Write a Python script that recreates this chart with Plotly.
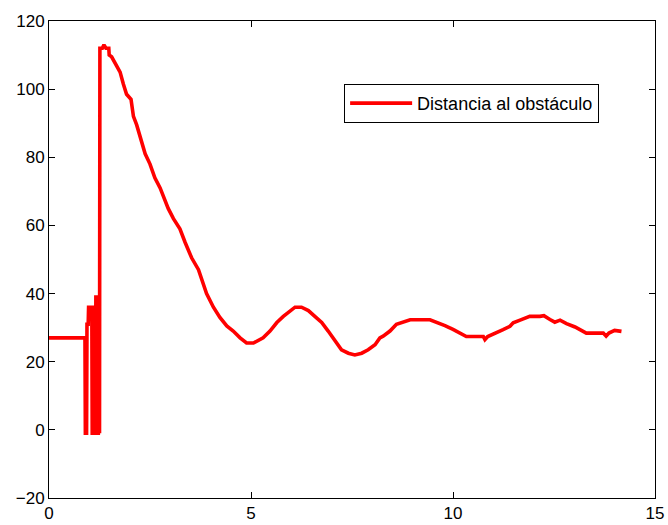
import plotly.graph_objects as go

# Time (s) and distance readings
t = [0, 0.89, 0.90, 0.93, 0.94, 0.97, 0.98, 1.06, 1.07, 1.09, 1.10, 1.12, 1.13, 1.15,
     1.16, 1.19, 1.20, 1.22, 1.23, 1.24, 1.25, 1.26, 1.32, 1.36, 1.41, 1.48, 1.49, 1.55,
     1.60, 1.68, 1.76, 1.84, 1.92, 2.03, 2.06, 2.09, 2.17, 2.29, 2.38, 2.50, 2.62, 2.75,
     2.87, 2.95, 3.08, 3.24, 3.37, 3.53, 3.70, 3.78, 3.90, 4.07, 4.23, 4.40, 4.56, 4.73,
     4.89, 5.06, 5.18, 5.30, 5.47, 5.64, 5.80, 5.97, 6.09, 6.25, 6.42, 6.58, 6.75, 6.91,
     7.08, 7.24, 7.41, 7.57, 7.74, 7.90, 8.07, 8.19, 8.27, 8.44, 8.60, 8.77, 8.94, 9.43,
     9.60, 9.80, 10.00, 10.20, 10.33, 10.75, 10.79, 10.86, 11.08, 11.24, 11.41, 11.49,
     11.66, 11.90, 12.15, 12.25, 12.40, 12.52, 12.65, 12.81, 13.02, 13.18, 13.30, 13.72,
     13.79, 13.86, 14.00, 14.17]
distancia = [27, 27, -1, -1, 31, 31, 36, 36, -1, -1, 36, 36, -1, -1,
             39, 39, -1, -1, 39, -1, -1, 112, 112, 113, 112, 112, 110, 109.5,
             108.5, 107, 105, 101.5, 98.5, 97, 95, 92, 89.5, 85, 81, 78, 74, 71,
             67.5, 65, 62, 59, 55, 50.5, 47, 44, 40, 36, 33, 30.5, 29, 27,
             25.5, 25.5, 26.3, 27, 29, 31.5, 33.3, 35, 36, 36, 35, 33.3, 31.5, 29,
             26, 23.5, 22.5, 22, 22.5, 23.5, 25, 27, 27.5, 29, 31, 31.6, 32.3, 32.3,
             31.6, 30.6, 29.5, 28.4, 27.4, 27.4, 26.5, 27.4, 28.4, 29.4, 30.4, 31.4,
             32.2, 33.3, 33.3, 33.5, 32.4, 31.6, 32.2, 31.2, 30.2, 29.2, 28.4, 28.4,
             27.5, 28.4, 29.2, 28.9]

x_ticks = [0, 5, 10, 15]
y_ticks = [-20, 0, 20, 40, 60, 80, 100, 120]

fig = go.Figure()
fig.add_trace(go.Scatter(
    x=t, y=distancia, mode="lines", name="Distancia al obstáculo",
    line=dict(color="#ff0000", width=3.6),
))

axis_common = dict(
    showline=True, linecolor="black", linewidth=1, mirror="ticks",
    ticks="inside", ticklen=6, tickcolor="black", tickwidth=1,
    showgrid=False, zeroline=False, automargin=False,
    tickfont=dict(family="Liberation Sans, Arial", size=17, color="black"),
)

fig.update_layout(
    width=668, height=525,
    margin=dict(l=49, r=13, t=21, b=27),
    paper_bgcolor="white", plot_bgcolor="white",
    xaxis=dict(range=[0, 15], tickvals=x_ticks, **axis_common),
    yaxis=dict(range=[-20, 120], tickvals=y_ticks, **axis_common),
    showlegend=True,
    legend=dict(
        x=0.487, y=0.868, xanchor="left", yanchor="top",
        bordercolor="black", borderwidth=1, bgcolor="white",
        font=dict(family="Liberation Sans, Arial", size=18, color="black"),
        itemwidth=62,
    ),
)

fig.write_html("out.html")
